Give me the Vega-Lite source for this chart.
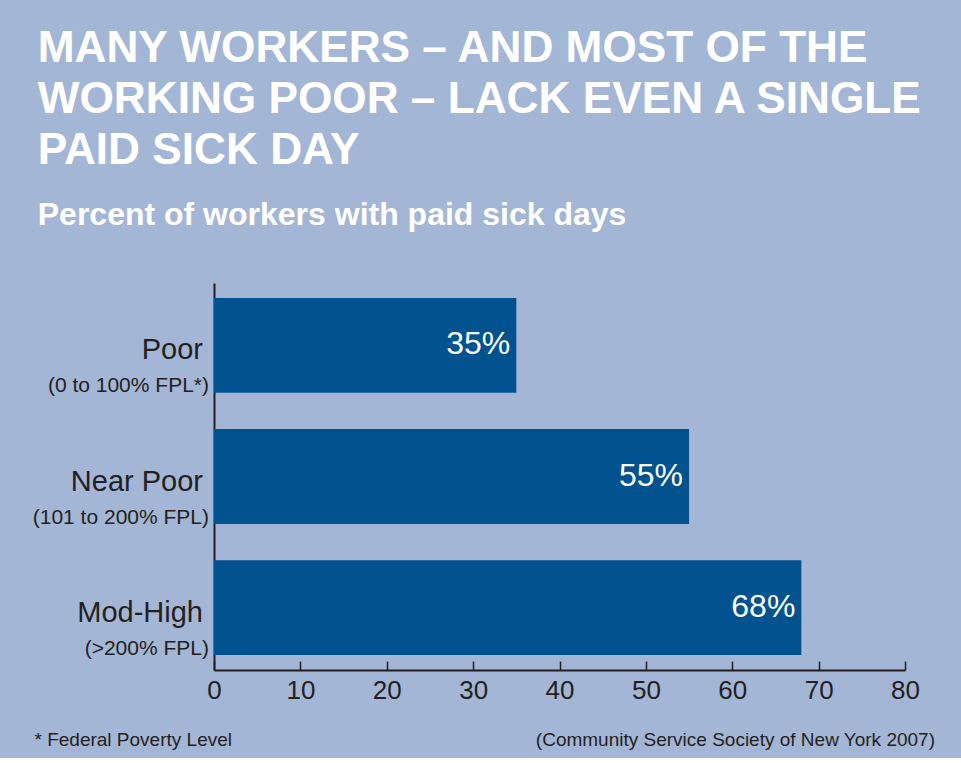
{
  "$schema": "https://vega.github.io/schema/vega-lite/v6.json",
  "background": "#a4b6d6",
  "padding": {"left": 32, "top": 26, "right": 27, "bottom": 8},
  "title": {
    "text": ["MANY WORKERS – AND MOST OF THE", "WORKING POOR – LACK EVEN A SINGLE", "PAID SICK DAY"],
    "subtitle": "Percent of workers with paid sick days",
    "anchor": "start",
    "frame": "bounds",
    "font": "Liberation Sans",
    "fontSize": 44.2,
    "fontWeight": "bold",
    "color": "#ffffff",
    "lineHeight": 51,
    "subtitleFont": "Liberation Sans",
    "subtitleFontSize": 32,
    "subtitleFontWeight": "bold",
    "subtitleColor": "#ffffff",
    "subtitlePadding": 27,
    "offset": 52,
    "dx": 5
  },
  "config": {
    "view": {"stroke": null},
    "concat": {"spacing": 0}
  },
  "vconcat": [
    {
      "width": 691,
      "height": 387,
      "title": {
        "text": "(Community Service Society of New York 2007)",
        "orient": "bottom",
        "anchor": "end",
        "frame": "group",
        "font": "Liberation Sans",
        "fontSize": 19,
        "fontWeight": "normal",
        "color": "#231f20",
        "offset": -18,
        "dx": 30
      },
      "data": {
        "values": [
          {"group": "Poor", "sub": "(0 to 100% FPL*)", "value": 35, "label": "35%"},
          {"group": "Near Poor", "sub": "(101 to 200% FPL)", "value": 55, "label": "55%"},
          {"group": "Mod-High", "sub": "(>200% FPL)", "value": 68, "label": "68%"}
        ]
      },
      "encoding": {
        "y": {
          "field": "group",
          "type": "nominal",
          "sort": null,
          "scale": {"paddingInner": 0.277, "paddingOuter": 0.115},
          "axis": {
            "title": null,
            "labels": false,
            "ticks": false,
            "domain": true,
            "domainColor": "#231f20",
            "domainWidth": 2
          }
        }
      },
      "layer": [
        {
          "mark": {"type": "bar", "color": "#00538f"},
          "encoding": {
            "x": {
              "field": "value",
              "type": "quantitative",
              "scale": {"domain": [0, 80], "nice": false},
              "axis": {
                "values": [0, 10, 20, 30, 40, 50, 60, 70, 80],
                "grid": false,
                "domainColor": "#231f20",
                "domainWidth": 2,
                "tickColor": "#231f20",
                "tickWidth": 1.5,
                "tickSize": -9,
                "labelPadding": 16,
                "labelFont": "Liberation Sans",
                "labelFontSize": 26,
                "labelColor": "#231f20",
                "labelFlush": false,
                "title": "* Federal Poverty Level",
                "titleFont": "Liberation Sans",
                "titleFontSize": 19,
                "titleFontWeight": "normal",
                "titleColor": "#231f20",
                "titleAnchor": "start",
                "titleAlign": "left",
                "titleBaseline": "middle",
                "titleX": -180,
                "titleY": 69
              }
            }
          }
        },
        {
          "mark": {"type": "text", "align": "right", "baseline": "middle", "dx": -6, "dy": -1, "font": "Liberation Sans", "fontSize": 32, "color": "#ffffff"},
          "encoding": {
            "x": {"field": "value", "type": "quantitative"},
            "text": {"field": "label"}
          }
        },
        {
          "mark": {"type": "text", "align": "right", "baseline": "middle", "dx": -11, "dy": 5, "font": "Liberation Sans", "fontSize": 29, "color": "#231f20"},
          "encoding": {
            "x": {"datum": 0, "type": "quantitative"},
            "text": {"field": "group"}
          }
        },
        {
          "mark": {"type": "text", "align": "right", "baseline": "middle", "dx": -5, "dy": 41, "font": "Liberation Sans", "fontSize": 21, "color": "#231f20"},
          "encoding": {
            "x": {"datum": 0, "type": "quantitative"},
            "text": {"field": "sub"}
          }
        }
      ]
    }
  ]
}
